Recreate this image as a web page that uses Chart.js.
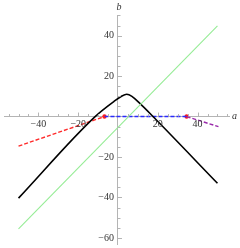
<!DOCTYPE html>
<html>
<head>
<meta charset="utf-8">
<script src="https://cdn.jsdelivr.net/npm/chart.js@4"></script>
<style>
  html, body { margin: 0; padding: 0; background: #fff; }
  #wrap { width: 240px; height: 248px; }
</style>
</head>
<body>
<div id="wrap"><canvas id="chart"></canvas></div>
<script>
// values
const blackA = [-50, -11.5, -2, 2, 4.4, 7, 11, 17.6, 50];
const blackB = [-40.3, 0, 7.5, 10.2, 11, 10, 6.5, 0, -33];
const greenA = [-50, 50];
const greenB = [-55.5, 44.8];
const redA = [-50, -6.8];
const redB = [-14.6, 0];
const blueA = [-6.8, 34.5];
const blueB = [0, 0];
const purpleA = [34.5, 50.5];
const purpleB = [0, -5];
const dotA = [-6.8, 34.5];
const dotB = [0, 0];

const xMajor = [-40, -20, 20, 40];
const yMajor = [-60, -40, -20, 20, 40];
const xMinor = [-55, -50, -45, -35, -30, -25, -15, -10, -5, 5, 10, 15, 25, 30, 35, 45, 50, 55];
const yMinor = [-55, -50, -45, -35, -30, -25, -15, -10, -5, 5, 10, 15, 25, 30, 35, 45, 50];

function pts(xs, ys) {
    return xs.map((x, i) => ({ x: x, y: ys[i] }));
}

const axisColor = '#b4b4b4';
const labelFont = '10px "Liberation Serif", "DejaVu Serif", serif';

const axisDecor = {
    id: 'axisDecor',
    afterDraw(chart) {
        const ctx = chart.ctx;
        const xs = chart.scales.x;
        const ys = chart.scales.y;
        const x0 = xs.getPixelForValue(0);
        const y0 = ys.getPixelForValue(0);
        ctx.save();
        ctx.strokeStyle = axisColor;
        ctx.lineWidth = 1;
        ctx.beginPath();
        xMajor.forEach(v => { const p = Math.round(xs.getPixelForValue(v)) + 0.5; ctx.moveTo(p, y0); ctx.lineTo(p, y0 - 4); });
        xMinor.forEach(v => { const p = Math.round(xs.getPixelForValue(v)) + 0.5; ctx.moveTo(p, y0); ctx.lineTo(p, y0 - 2.5); });
        yMajor.forEach(v => { const p = Math.round(ys.getPixelForValue(v)) + 0.5; ctx.moveTo(x0, p); ctx.lineTo(x0 + 4, p); });
        yMinor.forEach(v => { const p = Math.round(ys.getPixelForValue(v)) + 0.5; ctx.moveTo(x0, p); ctx.lineTo(x0 + 2.5, p); });
        ctx.stroke();

        ctx.fillStyle = '#333';
        ctx.font = labelFont;
        ctx.textAlign = 'center';
        ctx.textBaseline = 'middle';
        xMajor.forEach(v => {
            ctx.fillText(String(v).replace('-', '\u2212'), xs.getPixelForValue(v), y0 + 8);
        });
        ctx.textAlign = 'right';
        yMajor.forEach(v => {
            ctx.fillText(String(v).replace('-', '\u2212'), x0 - 4, ys.getPixelForValue(v));
        });
        ctx.font = 'italic 10px "Liberation Serif", "DejaVu Serif", serif';
        ctx.textAlign = 'left';
        ctx.fillText('a', xs.right + 3, y0);
        ctx.textAlign = 'center';
        ctx.fillText('b', x0 + 1, ys.top - 8);
        ctx.restore();
    }
};

const ctx = document.getElementById('chart').getContext('2d');
new Chart(ctx, {
    type: 'scatter',
    data: {
        datasets: [
            { data: pts(greenA, greenB), showLine: true, borderColor: '#96ec96', borderWidth: 1.1, pointRadius: 0 },
            { data: pts(blackA, blackB), showLine: true, borderColor: '#000', borderWidth: 1.6, pointRadius: 0, cubicInterpolationMode: 'monotone' },
            { data: pts(redA, redB), showLine: true, borderColor: '#ff2a2a', borderWidth: 1.4, borderDash: [4, 2], pointRadius: 0 },
            { data: pts(blueA, blueB), showLine: true, borderColor: '#2a2aff', borderWidth: 1.6, borderDash: [4, 2], pointRadius: 0 },
            { data: pts(purpleA, purpleB), showLine: true, borderColor: '#9a2aaa', borderWidth: 1.4, borderDash: [4, 2], pointRadius: 0 },
            { data: pts(dotA, dotB), showLine: false, backgroundColor: '#ff1a1a', borderWidth: 0, pointRadius: 2.2 }
        ]
    },
    options: {
        responsive: true,
        maintainAspectRatio: false,
        animation: false,
        layout: { padding: { left: 0, right: 11, top: 15, bottom: 1 } },
        plugins: { legend: { display: false }, tooltip: { enabled: false } },
        scales: {
            x: {
                type: 'linear',
                min: -57.3,
                max: 55.8,
                position: { y: 0 },
                grid: { display: false },
                border: { display: true, color: axisColor, width: 1 },
                ticks: { display: false }
            },
            y: {
                type: 'linear',
                min: -63,
                max: 50.2,
                position: { x: 0 },
                grid: { display: false },
                border: { display: true, color: axisColor, width: 1 },
                ticks: { display: false }
            }
        }
    },
    plugins: [axisDecor]
});
</script>
</body>
</html>
